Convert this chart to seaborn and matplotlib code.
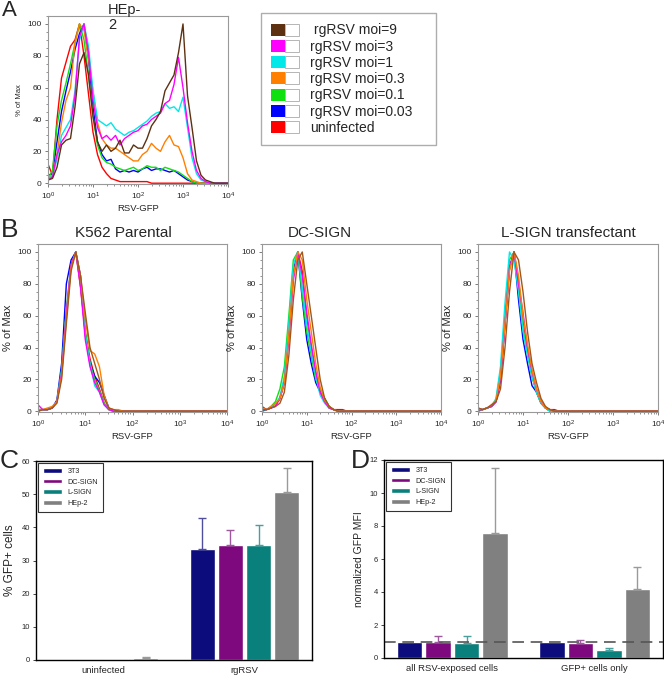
import numpy as np
import pandas as pd
import matplotlib
matplotlib.use("Agg")
import matplotlib.pyplot as plt
import seaborn as sns
from matplotlib.patches import Patch
from matplotlib.legend_handler import HandlerTuple
from matplotlib.ticker import AutoMinorLocator, LogLocator, NullFormatter

sns.set_style("ticks")
plt.rcParams["font.family"] = ["Liberation Sans", "DejaVu Sans"]

# ---------------------------------------------------------------
# Panel A - HEp-2 histograms (log10 RSV-GFP bins, % of max)
# ---------------------------------------------------------------
bins_a = [0.0, 0.1, 0.2, 0.3, 0.4, 0.5, 0.6, 0.7, 0.8, 0.9,
          1.0, 1.1, 1.2, 1.3, 1.4, 1.5, 1.6, 1.7, 1.8, 1.9,
          2.0, 2.1, 2.2, 2.3, 2.4, 2.5, 2.6, 2.7, 2.8, 2.9,
          3.0, 3.1, 3.2, 3.3, 3.4, 3.5, 3.6, 3.7, 3.8, 3.9, 4.0]
a_moi9 = [2, 3, 10, 24, 27, 28, 48, 75, 82, 68, 42, 26, 20, 24, 20, 22, 27, 19, 19, 24,
          22, 22, 28, 36, 40, 45, 58, 63, 68, 82, 100, 55, 35, 14, 5, 2, 1, 0, 0, 0, 0]
a_moi3 = [2, 4, 18, 26, 30, 36, 55, 92, 100, 82, 52, 35, 28, 30, 27, 30, 24, 28, 30, 32,
          33, 36, 37, 40, 42, 44, 50, 52, 62, 79, 60, 38, 20, 8, 3, 1, 0, 0, 0, 0, 0]
a_moi1 = [4, 5, 15, 30, 35, 40, 58, 90, 100, 86, 58, 40, 38, 36, 38, 34, 32, 30, 32, 33,
          35, 37, 39, 42, 44, 45, 50, 47, 48, 45, 54, 35, 16, 6, 2, 1, 0, 0, 0, 0, 0]
a_moi03 = [3, 5, 18, 38, 52, 60, 88, 100, 96, 78, 58, 38, 28, 24, 22, 22, 20, 18, 16, 14,
           14, 18, 20, 25, 22, 20, 26, 30, 24, 23, 16, 6, 2, 1, 0, 0, 0, 0, 0, 0, 0]
a_moi01 = [3, 8, 36, 52, 63, 75, 88, 100, 90, 68, 42, 24, 16, 13, 12, 10, 9, 8, 9, 10,
           8, 9, 11, 10, 10, 8, 10, 9, 8, 7, 5, 3, 1, 0, 0, 0, 0, 0, 0, 0, 0]
a_moi003 = [5, 6, 26, 45, 58, 70, 84, 94, 100, 78, 48, 26, 18, 14, 15, 9, 7, 8, 7, 8,
            7, 9, 10, 8, 9, 9, 8, 7, 8, 6, 4, 2, 1, 0, 0, 0, 0, 0, 0, 0, 0]
a_uninf = [12, 5, 40, 66, 76, 86, 90, 100, 80, 56, 32, 18, 10, 6, 3, 2, 1, 1, 1, 1,
           1, 1, 1, 0, 0, 0, 0, 0, 0, 0, 0, 0, 0, 0, 0, 0, 0, 0, 0, 0, 0]

series_labels = [" rgRSV moi=9", "rgRSV moi=3", "rgRSV moi=1", "rgRSV moi=0.3",
                 "rgRSV moi=0.1", "rgRSV moi=0.03", "uninfected"]
series_colors = ["#5c3010", "#ff00ff", "#00e8e8", "#ff8000", "#10e010", "#0000ff", "#ff0000"]
b_colors = ["#a0581c", "#ff00ff", "#00e8e8", "#ff8000", "#10e010", "#0000ff", "#ff0000"]

# ---------------------------------------------------------------
# Panel B - K562 lines
# ---------------------------------------------------------------
bins_b = [0.0, 0.1, 0.2, 0.3, 0.4, 0.5, 0.6, 0.7, 0.8, 0.9,
          1.0, 1.1, 1.2, 1.3, 1.4, 1.5, 1.6, 1.7, 1.8, 1.9, 2.0, 4.0]
k562_moi9 = [0, 1, 1, 2, 5, 20, 55, 88, 100, 85, 62, 40, 30, 20, 8, 2, 1, 0, 0, 0, 0, 0]
k562_moi3 = [4, 1, 1, 2, 6, 24, 62, 92, 100, 78, 45, 28, 18, 12, 4, 1, 0, 0, 0, 0, 0, 0]
k562_moi1 = [1, 1, 1, 2, 6, 25, 62, 90, 100, 82, 48, 30, 16, 12, 4, 1, 0, 0, 0, 0, 0, 0]
k562_moi03 = [1, 1, 2, 3, 6, 22, 58, 90, 100, 85, 58, 38, 36, 28, 10, 2, 1, 1, 0, 0, 0, 0]
k562_moi01 = [1, 1, 1, 2, 6, 26, 64, 92, 100, 80, 50, 30, 20, 13, 5, 1, 0, 0, 0, 0, 0, 0]
k562_moi003 = [0, 1, 1, 2, 7, 30, 80, 95, 100, 85, 48, 30, 22, 18, 10, 2, 0, 0, 0, 0, 0, 0]
k562_uninf = [1, 1, 1, 2, 6, 24, 60, 92, 100, 78, 50, 33, 22, 14, 5, 1, 0, 0, 0, 0, 0, 0]

dc_moi9 = [1, 1, 2, 3, 5, 12, 35, 70, 95, 100, 80, 60, 40, 20, 8, 3, 1, 0, 0, 0, 0, 0]
dc_moi3 = [2, 1, 2, 3, 8, 18, 45, 82, 100, 85, 62, 42, 25, 12, 6, 2, 1, 0, 0, 0, 0, 0]
dc_moi1 = [1, 1, 2, 4, 9, 22, 55, 92, 100, 78, 55, 38, 22, 10, 5, 2, 1, 0, 0, 0, 0, 0]
dc_moi03 = [2, 1, 3, 5, 8, 18, 48, 85, 100, 95, 70, 50, 30, 15, 7, 3, 1, 0, 0, 0, 0, 0]
dc_moi01 = [1, 1, 3, 6, 14, 28, 60, 95, 100, 72, 50, 35, 20, 14, 8, 3, 1, 0, 0, 0, 0, 0]
dc_moi003 = [0, 1, 2, 4, 8, 18, 50, 88, 100, 70, 45, 30, 18, 12, 8, 3, 1, 0, 0, 0, 0, 0]
dc_uninf = [3, 1, 2, 4, 8, 20, 50, 85, 100, 88, 58, 40, 24, 12, 6, 2, 1, 1, 1, 0, 0, 0]

ls_moi9 = [2, 1, 2, 4, 6, 14, 40, 75, 100, 95, 75, 50, 30, 18, 8, 3, 1, 0, 0, 0, 0, 0]
ls_moi3 = [1, 1, 2, 3, 6, 20, 55, 90, 100, 80, 62, 40, 25, 14, 6, 2, 1, 0, 0, 0, 0, 0]
ls_moi1 = [1, 1, 2, 3, 8, 28, 68, 100, 95, 75, 50, 35, 22, 12, 5, 2, 0, 0, 0, 0, 0, 0]
ls_moi03 = [1, 1, 2, 4, 7, 22, 55, 88, 100, 85, 60, 42, 26, 14, 6, 2, 1, 0, 0, 0, 0, 0]
ls_moi01 = [1, 1, 2, 3, 7, 25, 60, 95, 100, 78, 52, 36, 22, 12, 5, 2, 0, 0, 0, 0, 0, 0]
ls_moi003 = [0, 1, 2, 3, 6, 20, 55, 90, 100, 70, 45, 30, 16, 12, 5, 2, 0, 0, 0, 0, 0, 0]
ls_uninf = [2, 1, 2, 3, 6, 20, 55, 90, 100, 82, 58, 38, 22, 12, 6, 2, 1, 1, 0, 0, 0, 0]

# ---------------------------------------------------------------
# Panels C and D - bar charts
# ---------------------------------------------------------------
cell_lines = ["3T3", "DC-SIGN", "L-SIGN", "HEp-2"]
bar_colors = ["#0c0c7c", "#7e087e", "#0a807c", "#808080"]
err_colors = ["#4e4e9c", "#9c5a9c", "#4a9e9c", "#9a9a9a"]

c_conditions = ["uninfected", "rgRSV"]
c_uninfected = [0.1, 0.2, 0.1, 0.5]
c_uninfected_err = [0.0, 0.0, 0.0, 0.5]
c_rgrsv = [33.4, 34.6, 34.8, 50.8]
c_rgrsv_err = [9.5, 4.7, 5.9, 7.0]

d_conditions = ["all RSV-exposed cells", "GFP+ cells only"]
d_all = [1.0, 1.0, 0.93, 7.56]
d_all_err = [0.0, 0.31, 0.38, 3.94]
d_gfp = [1.0, 0.91, 0.5, 4.2]
d_gfp_err = [0.0, 0.2, 0.1, 1.29]

W, H = 664, 678
fig = plt.figure(figsize=(W / 100, H / 100), dpi=100)


def px_axes(x0, y0, x1, y1):
    return fig.add_axes([x0 / W, 1 - y1 / H, (x1 - x0) / W, (y1 - y0) / H])


def draw_hist(ax, bins, curves, colors, ylabel_size):
    x = 10 ** np.array(bins)
    for vals, col in zip(curves, colors):
        sns.lineplot(x=x, y=vals, color=col, linewidth=1.0, ax=ax,
                     estimator=None, sort=False)
    ax.set_xscale("log")
    ax.set_xlim(1, 1e4)
    ax.set_ylim(-0.5, 105)
    ax.set_yticks([0, 20, 40, 60, 80, 100])
    ax.yaxis.set_minor_locator(AutoMinorLocator(4))
    ax.xaxis.set_minor_locator(LogLocator(subs=np.arange(2, 10)))
    ax.xaxis.set_minor_formatter(NullFormatter())
    ax.tick_params(labelsize=6, length=2.5, width=0.6, color="#666666", pad=2)
    ax.tick_params(which="minor", length=1.5, width=0.5, color="#666666")
    for s in ax.spines.values():
        s.set_color("#999999")
        s.set_linewidth(0.8)
    ax.set_xlabel("RSV-GFP", fontsize=6.8, labelpad=2)
    ax.set_ylabel("% of Max", fontsize=ylabel_size, labelpad=3)


# Panel A
ax_a = px_axes(48, 16, 228, 184)
draw_hist(ax_a, bins_a, [a_uninf, a_moi003, a_moi01, a_moi03, a_moi1, a_moi3, a_moi9],
          series_colors[::-1], 5.5)
fig.text(108 / W, 1 - 3 / H, "HEp-\n2", fontsize=10.5, va="top", ha="left", linespacing=1.05)

handles = [(Patch(facecolor=c, edgecolor="none"), Patch(facecolor="white", edgecolor="#aaaaaa", lw=0.6))
           for c in series_colors]
fig.legend(handles, series_labels, handler_map={tuple: HandlerTuple(ndivide=None, pad=0)},
           loc="upper left", bbox_to_anchor=(261 / W, 1 - 147 / H, 175 / W, 134 / H),
           mode="expand", frameon=True, fancybox=False,
           edgecolor="#999999", fontsize=10, handlelength=2.0, handleheight=0.95,
           labelspacing=0.16, borderpad=0.75, handletextpad=0.8, borderaxespad=0)

# Panel B
b_panels = [
    ((38, 244, 227, 412), "K562 Parental", 123,
     [k562_moi9, k562_moi3, k562_moi1, k562_moi03, k562_moi01, k562_moi003, k562_uninf]),
    ((262, 244, 441, 412), "DC-SIGN", 320,
     [dc_moi9, dc_moi3, dc_moi1, dc_moi03, dc_moi01, dc_moi003, dc_uninf]),
    ((478, 244, 658, 412), "L-SIGN transfectant", 568,
     [ls_moi9, ls_moi3, ls_moi1, ls_moi03, ls_moi01, ls_moi003, ls_uninf]),
]
for box, title, tx, curves in b_panels:
    ax = px_axes(*box)
    order = [6, 5, 4, 2, 1, 3, 0]
    draw_hist(ax, bins_b, [curves[i] for i in order], [b_colors[i] for i in order], 8)
    fig.text(tx / W, 1 - 233 / H, title, fontsize=11, ha="center", va="center")


def draw_bars(ax, conditions, vals, errs, ylabel, ylim, yticks, ylabel_size):
    df = pd.DataFrame({
        "condition": [c for c in conditions for _ in cell_lines],
        "cell": cell_lines * len(conditions),
        "value": [v for row in vals for v in row],
    })
    sns.barplot(data=df, x="condition", y="value", hue="cell", hue_order=cell_lines,
                palette=bar_colors, saturation=1, width=0.8, gap=0.1, errorbar=None, ax=ax)
    for cont, ecol, k in zip(list(ax.containers), err_colors, range(len(cell_lines))):
        for bar, erow in zip(cont, errs):
            if erow[k] > 0:
                ax.errorbar(bar.get_x() + bar.get_width() / 2, bar.get_height(),
                            yerr=[[0], [erow[k]]], color=ecol, lw=1, capsize=3, capthick=1)
    ax.set_ylim(*ylim)
    ax.set_yticks(yticks)
    ax.set_xlabel("")
    ax.set_ylabel(ylabel, fontsize=ylabel_size)
    ax.tick_params(axis="x", length=0, labelsize=6.8, pad=4)
    ax.tick_params(axis="y", length=2.5, width=0.6, labelsize=5.5, pad=2)
    for s in ax.spines.values():
        s.set_color("black")
        s.set_linewidth(1)
    leg = ax.get_legend()
    h = leg.legend_handles
    lab = [t.get_text() for t in leg.get_texts()]
    ax.legend(h, lab, loc="upper left", bbox_to_anchor=(0.007, 0.99), frameon=True,
              fancybox=False, edgecolor="black", fontsize=5.2, handlelength=2.6,
              handleheight=0.6, labelspacing=0.5, borderpad=0.7, handletextpad=0.8,
              borderaxespad=0).get_frame().set_linewidth(0.8)


ax_c = px_axes(36, 461, 312, 660)
draw_bars(ax_c, c_conditions, [c_uninfected, c_rgrsv], [c_uninfected_err, c_rgrsv_err],
          "% GFP+ cells", (0, 60), [0, 10, 20, 30, 40, 50, 60], 8.5)

ax_d = px_axes(384, 460, 663, 658)
draw_bars(ax_d, d_conditions, [d_all, d_gfp], [d_all_err, d_gfp_err],
          "normalized GFP MFI", (0, 12), [0, 2, 4, 6, 8, 10, 12], 7.5)
ax_d.axhline(1, color="#555555", lw=1.2, ls=(0, (7, 4)))

for letter, x, y, fs in [("A", 2, 0, 16), ("B", 1, 218, 19), ("C", 0, 449, 19), ("D", 351, 449, 19)]:
    fig.text(x / W, 1 - y / H, letter, fontsize=fs, va="top", ha="left")

plt.savefig("out.png", dpi=100)
plt.close()
